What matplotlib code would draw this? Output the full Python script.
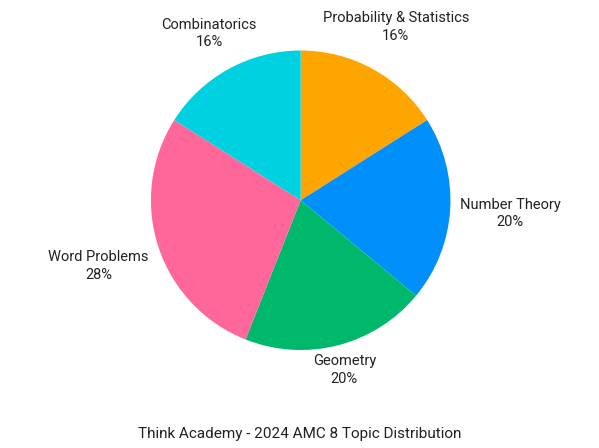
import matplotlib
matplotlib.use("Agg")
import matplotlib.pyplot as plt
import numpy as np

labels = ["Probability & Statistics", "Number Theory", "Geometry", "Word Problems", "Combinatorics"]
values = [16, 20, 20, 28, 16]
colors = ["#FFA500", "#008FFB", "#00B86B", "#FF6699", "#00D1E0"]
title = "Think Academy - 2024 AMC 8 Topic Distribution"

plt.rcParams['font.family'] = ['Roboto', 'DejaVu Sans']
fig = plt.figure(figsize=(5.99, 4.48), dpi=100)
ax = fig.add_axes([0.502 - 0.25, 0.553 - 0.335, 0.5, 0.67])
wedges, _ = ax.pie(values, colors=colors, startangle=90, counterclock=False,
                   wedgeprops=dict(linewidth=0))
ax.set_xlim(-1, 1)
ax.set_ylim(-1, 1)
ax.set_aspect('equal')
dists = [1.32, 1.4, 1.17, 1.42, 1.27]
for w, l, v, d in zip(wedges, labels, values, dists):
    a = np.deg2rad((w.theta1 + w.theta2) / 2)
    ax.text(d * np.cos(a), d * np.sin(a), f"{l}\n{v}%", ha='center', va='center',
            fontsize=10.5, color="#222222", linespacing=1.3, clip_on=False)
fig.text(0.5, 1 - 434 / 448, title, ha='center', va='center', fontsize=11, color="#222222")
fig.savefig("out.png", dpi=100)
